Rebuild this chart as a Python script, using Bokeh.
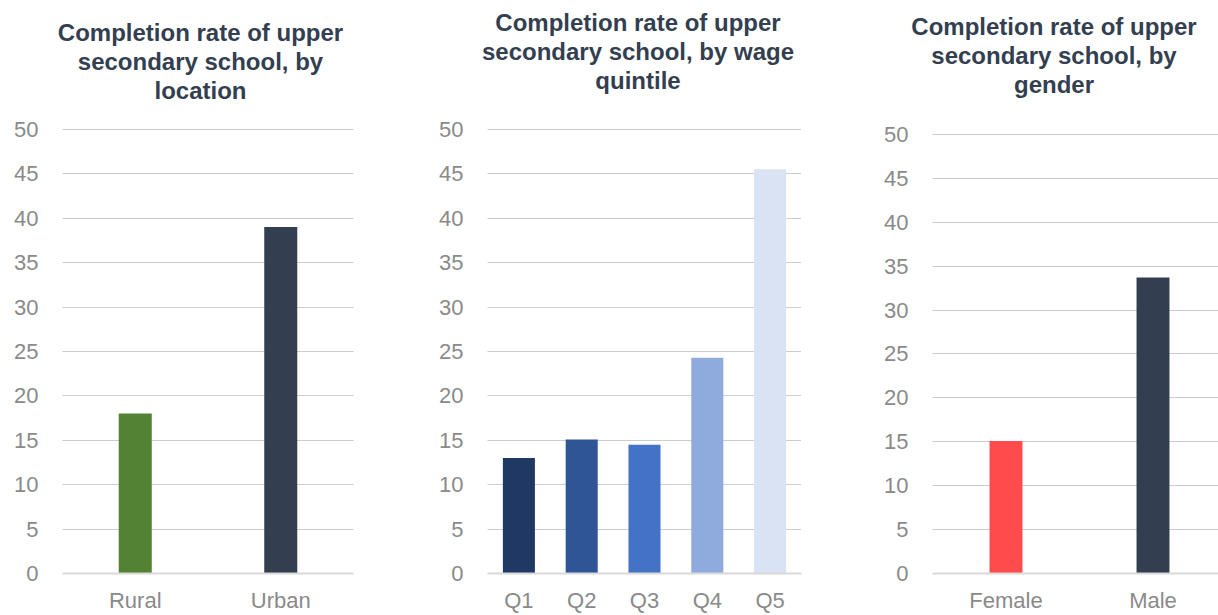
from bokeh.plotting import figure
from bokeh.layouts import row
from bokeh.models import Range1d, FixedTicker, Title
from bokeh.embed import file_html
from bokeh.resources import INLINE

# ---- data ----
loc_title = ["Completion rate of upper", "secondary school, by", "location"]
loc_cats = ["Rural", "Urban"]
loc_vals = [18.0, 39.0]
loc_colors = ["#548235", "#333F50"]

q_title = ["Completion rate of upper", "secondary school, by wage", "quintile"]
q_cats = ["Q1", "Q2", "Q3", "Q4", "Q5"]
q_vals = [13.0, 15.1, 14.5, 24.3, 45.5]
q_colors = ["#203864", "#2F5597", "#4472C4", "#8FAADC", "#DAE3F3"]

g_title = ["Completion rate of upper", "secondary school, by", "gender"]
g_cats = ["Female", "Male"]
g_vals = [15.1, 33.7]
g_colors = ["#FF4B4B", "#333F50"]

y_ticks = list(range(0, 51, 5))

FONT = "Liberation Sans"
TICK_COLOR = "#8a8a8a"
TITLE_COLOR = "#333F50"
TITLE_SIZE = 24

# Arial / Liberation Sans Bold advance widths (per 1000 em) for centring title lines
BOLD_W = {" ": 278, ",": 278, "a": 556, "b": 611, "c": 556, "d": 611, "e": 556,
          "f": 333, "g": 611, "h": 611, "i": 278, "l": 278, "m": 889, "n": 611,
          "o": 611, "p": 611, "q": 611, "r": 389, "s": 556, "t": 333, "u": 611,
          "w": 778, "y": 556, "C": 722}


def text_w(s):
    return sum(BOLD_W.get(ch, 600) for ch in s) * TITLE_SIZE / 1000.0


def make_panel(width, left, right, unit_px, y_end, cats, vals, colors, bar_w,
               title_lines, title_center, title_gap):
    n = len(cats)
    xs = list(range(n))
    frame_w = width - left - right
    p = figure(width=width, height=615, output_backend="svg", toolbar_location=None,
               x_range=Range1d(-0.5, -0.5 + frame_w / unit_px),
               y_range=Range1d(0, y_end),
               min_border_left=left, min_border_right=right,
               min_border_top=128, min_border_bottom=0)
    p.title.visible = False
    p.outline_line_color = None
    p.vbar(x=xs, top=vals, width=bar_w, color=colors, line_color=None)

    # spacer between frame and the title block
    p.add_layout(Title(text=" ", text_font_size="1px", standoff=title_gap), "above")
    # title lines, nearest to the frame first
    for line in reversed(title_lines):
        off = title_center - text_w(line) / 2.0
        p.add_layout(Title(text=line, align="left", offset=off, standoff=0,
                           text_font=FONT, text_font_size=f"{TITLE_SIZE}px",
                           text_font_style="bold", text_color=TITLE_COLOR), "above")

    p.xaxis.ticker = FixedTicker(ticks=xs)
    p.xaxis.major_label_overrides = {i: c for i, c in enumerate(cats)}
    p.xaxis.axis_line_color = "#D9D9D9"
    p.xaxis.axis_line_width = 2
    p.xaxis.major_tick_line_color = None
    p.xaxis.minor_tick_line_color = None
    p.xaxis.major_tick_out = 0
    p.xaxis.major_tick_in = 0
    p.xaxis.axis_label_standoff = 0
    p.xaxis.major_label_standoff = 14
    p.xaxis.major_label_text_font = FONT
    p.xaxis.major_label_text_font_size = "22px"
    p.xaxis.major_label_text_color = TICK_COLOR

    p.yaxis.ticker = FixedTicker(ticks=y_ticks)
    p.yaxis.axis_line_color = None
    p.yaxis.major_tick_line_color = None
    p.yaxis.minor_tick_line_color = None
    p.yaxis.major_tick_out = 0
    p.yaxis.major_tick_in = 0
    p.yaxis.axis_label_standoff = 0
    p.yaxis.major_label_standoff = 24
    p.yaxis.major_label_text_font = FONT
    p.yaxis.major_label_text_font_size = "22px"
    p.yaxis.major_label_text_color = TICK_COLOR

    p.xgrid.grid_line_color = None
    p.ygrid.grid_line_color = "#9A9A9A"
    p.ygrid.grid_line_dash = "1 1"
    p.ygrid.grid_line_width = 1
    return p


# panel 1: page x 0..410, frame 62..353
p1 = make_panel(410, 62, 57, 145.5, 50.1, loc_cats, loc_vals, loc_colors, 0.227,
                loc_title, 138, 22)
# panel 2: page x 410..820, frame 487..801
p2 = make_panel(410, 77, 19, 62.8, 50.1, q_cats, q_vals, q_colors, 0.51,
                q_title, 150.5, 32)
# panel 3: page x 820..1218, frame 932..1218 (wider category spacing, slightly shorter scale)
p3 = make_panel(398, 112, 0, 147, 50.68, g_cats, g_vals, g_colors, 0.224,
                g_title, 121.5, 28)

layout = row(p1, p2, p3)
open("out.html", "w").write(file_html(layout, INLINE))
